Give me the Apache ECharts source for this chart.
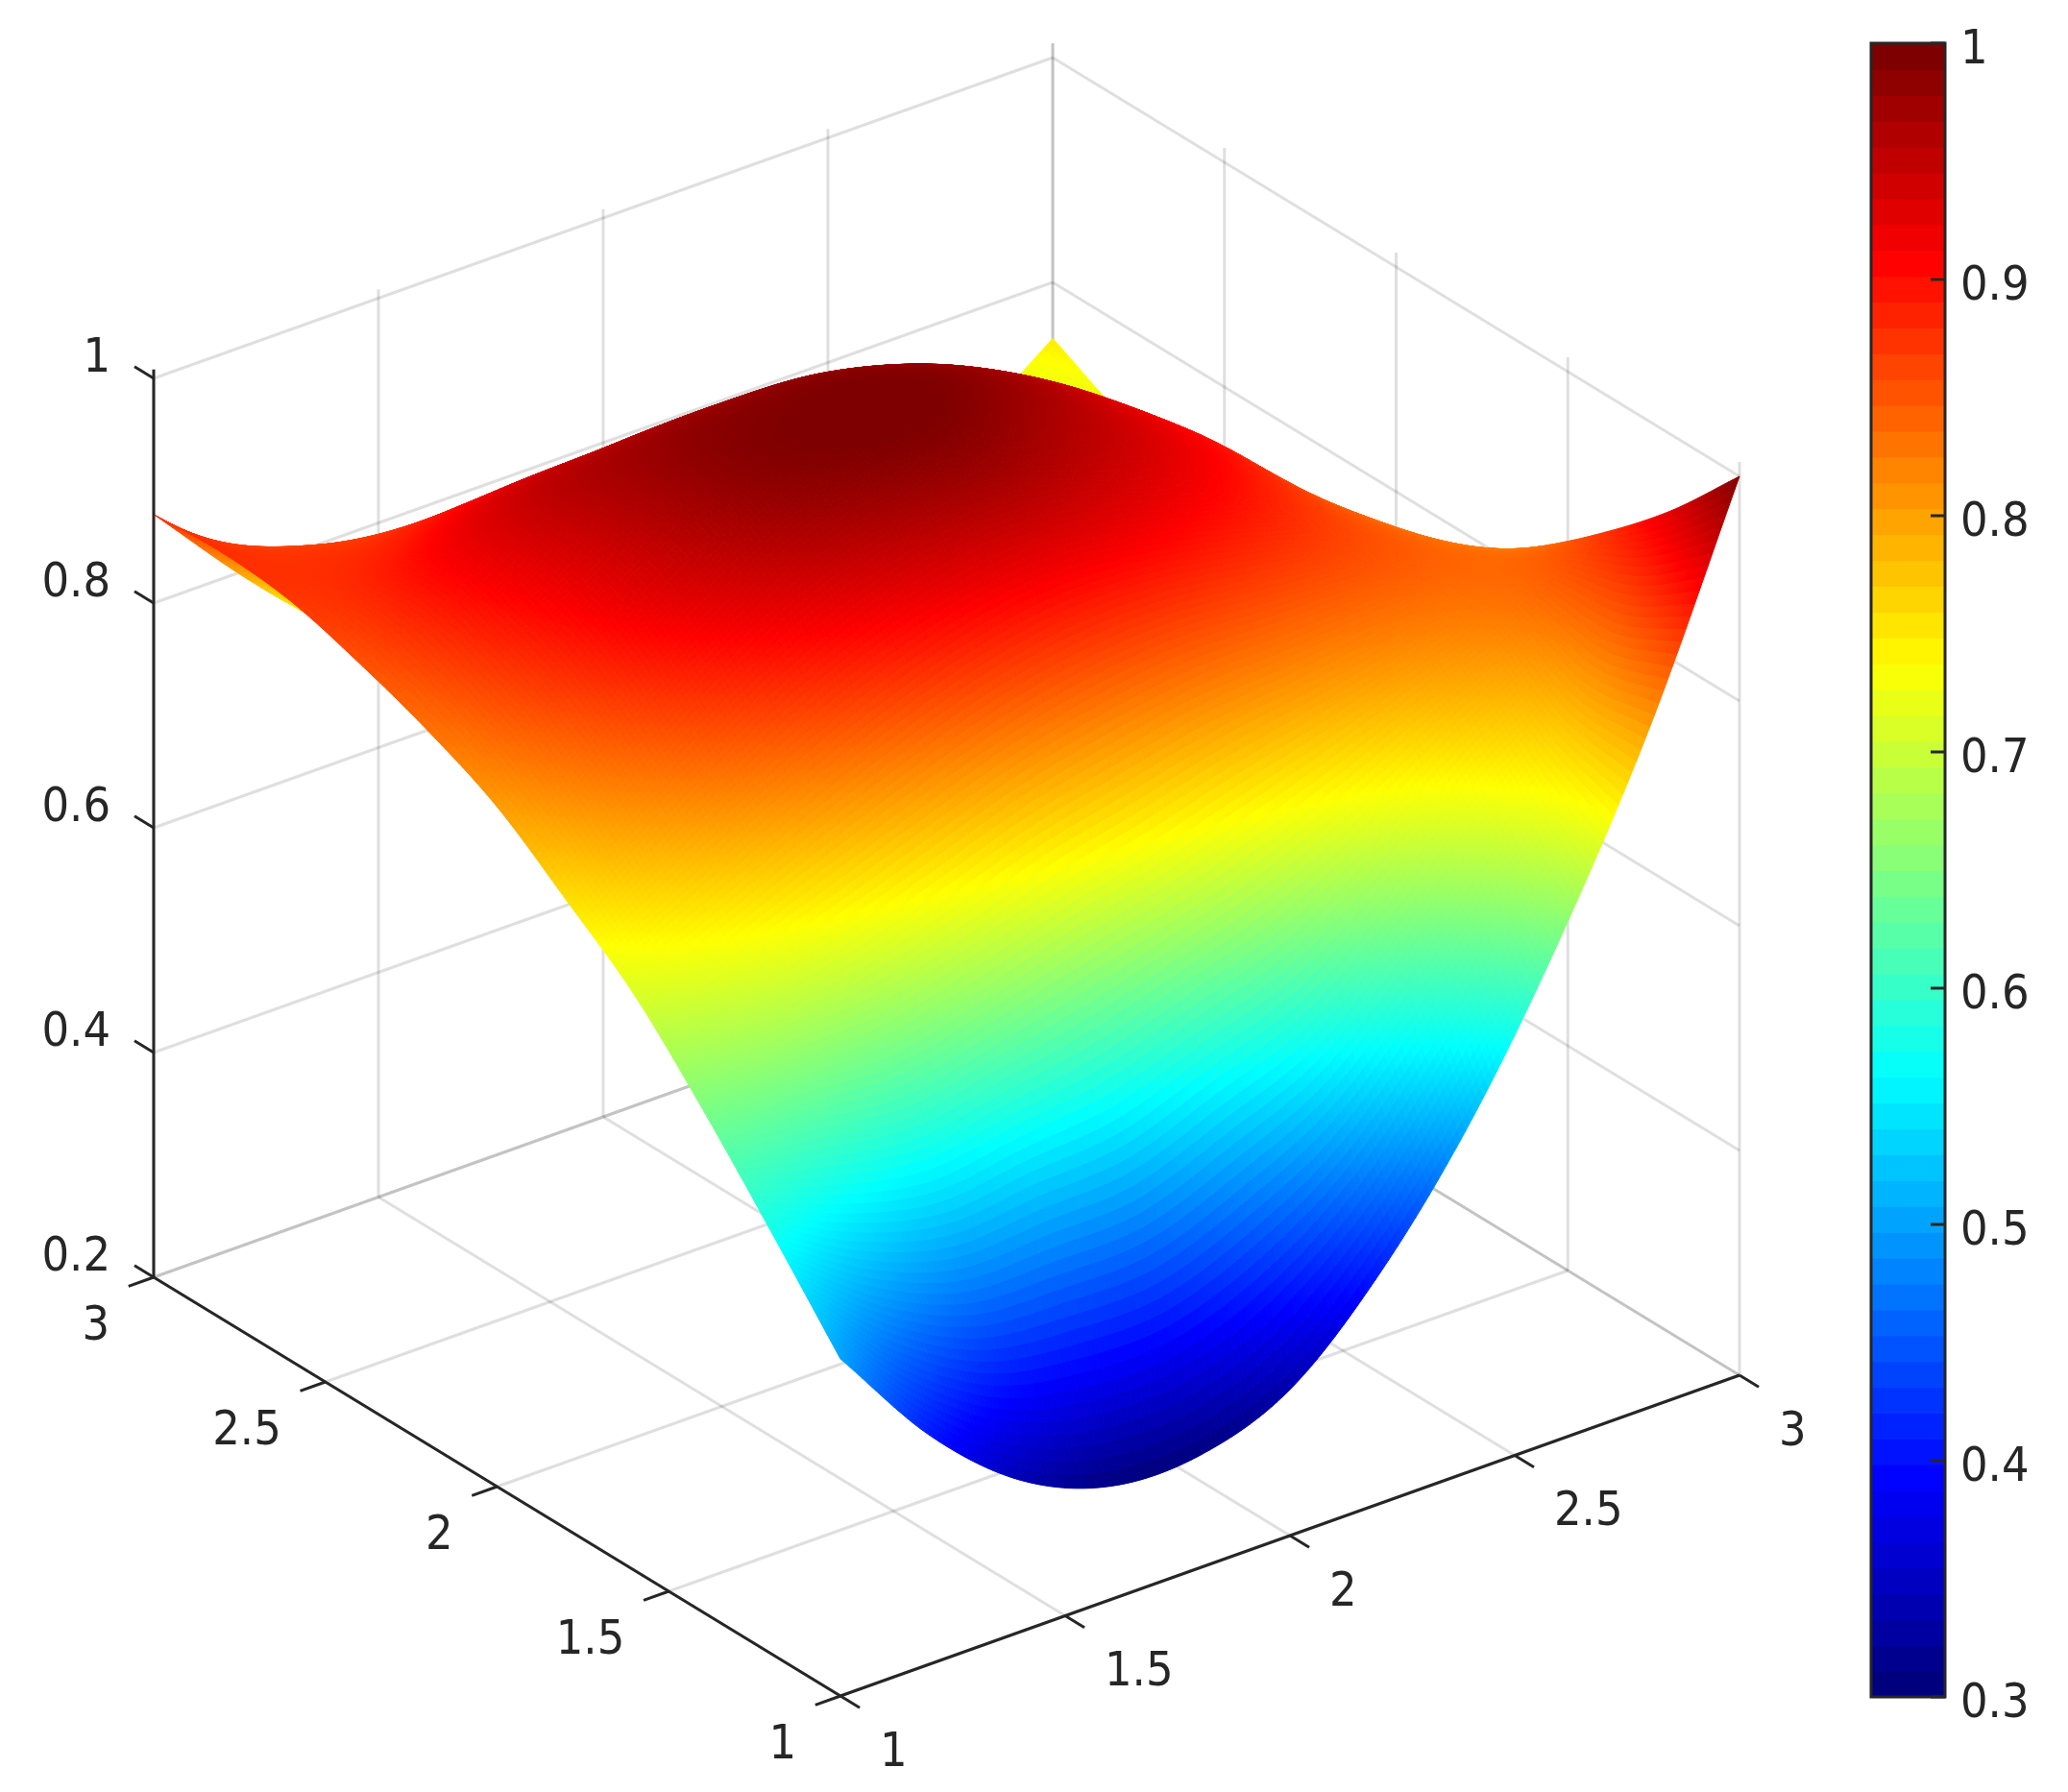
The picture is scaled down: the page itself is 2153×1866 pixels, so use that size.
<!DOCTYPE html>
<html>
<head>
<meta charset="utf-8">
<title>surface</title>
<script src="https://cdn.jsdelivr.net/npm/echarts@6/dist/echarts.min.js"></script>
<style>
  html, body { margin: 0; padding: 0; background: #fff; }
  #chart { width: 2153px; height: 1866px; }
</style>
</head>
<body>
<div id="chart"></div>
<script>
// values
const uValues = [1, 1.2, 1.4, 1.6, 1.8, 2, 2.2, 2.4, 2.6, 2.8, 3];
const vValues = [1, 1.2, 1.4, 1.6, 1.8, 2, 2.2, 2.4, 2.6, 2.8, 3];
// one row per v, one column per u
const zValues = [
  [0.500, 0.403, 0.335, 0.301, 0.300, 0.330, 0.405, 0.510, 0.645, 0.805, 1.000],
  [0.575, 0.530, 0.505, 0.510, 0.515, 0.545, 0.578, 0.645, 0.725, 0.800, 0.932],
  [0.647, 0.655, 0.655, 0.675, 0.700, 0.720, 0.745, 0.770, 0.800, 0.830, 0.875],
  [0.712, 0.745, 0.780, 0.812, 0.840, 0.858, 0.865, 0.860, 0.855, 0.845, 0.825],
  [0.760, 0.820, 0.872, 0.915, 0.942, 0.952, 0.940, 0.918, 0.885, 0.840, 0.783],
  [0.805, 0.870, 0.930, 0.975, 0.995, 0.997, 0.975, 0.945, 0.900, 0.825, 0.760],
  [0.835, 0.900, 0.953, 0.988, 1.000, 1.002, 0.985, 0.945, 0.885, 0.805, 0.740],
  [0.858, 0.915, 0.955, 0.970, 0.975, 0.970, 0.945, 0.900, 0.850, 0.770, 0.720],
  [0.876, 0.890, 0.908, 0.900, 0.890, 0.870, 0.850, 0.830, 0.800, 0.740, 0.710],
  [0.882, 0.860, 0.830, 0.770, 0.740, 0.730, 0.720, 0.720, 0.710, 0.700, 0.720],
  [0.879, 0.795, 0.720, 0.650, 0.600, 0.580, 0.580, 0.600, 0.630, 0.690, 0.750]
];
const uTicks = [1, 1.5, 2, 2.5, 3];
const vTicks = [1, 1.5, 2, 2.5, 3];
const zTicks = [0.2, 0.4, 0.6, 0.8, 1];
const colorTicks = [0.3, 0.4, 0.5, 0.6, 0.7, 0.8, 0.9, 1];
const zTopLeft = 1.008;
const zTopRight = 1.0128;
const zBottom = 0.2;

const jetStops = [0, 0.125, 0.375, 0.625, 0.875, 1];
const jetColors = ['#00007f', '#0000ff', '#00ffff', '#ffff00', '#ff0000', '#7f0000'];
const colorMin = 0.3;
const colorMax = 1;
const colorLevels = 64;

const WIDTH = 2153;
const HEIGHT = 1866;
const FONT = '"DejaVu Sans Condensed", "DejaVu Sans", sans-serif';
const INK = '#262626';
const GRID_LINE = 'rgba(38,38,38,0.15)';
const SUB = 20; // facets per data cell, like shading interp

// orthographic view of the box, in page pixels
function project(u, v, z) {
  return [
    875 + (u - 1) * 468 - (v - 1) * 357.5,
    1766 - (u - 1) * 167 - (v - 1) * 218 - (z - zBottom) * 1170
  ];
}

function jet(z) {
  const t = Math.min(1, Math.max(0, (z - colorMin) / (colorMax - colorMin)));
  let k = 0;
  while (k < jetStops.length - 2 && t > jetStops[k + 1]) k++;
  const local = (t - jetStops[k]) / (jetStops[k + 1] - jetStops[k]);
  return echarts.color.lerp(local, [jetColors[k], jetColors[k + 1]]);
}

// smooth shading between the read values
function rowAt(row, i) {
  const n = row.length;
  if (i < 0) return 2 * row[0] - row[1];
  if (i >= n) return 2 * row[n - 1] - row[n - 2];
  return row[i];
}
function spline(p0, p1, p2, p3, t) {
  return p1 + 0.5 * t * (p2 - p0 + t * (2 * p0 - 5 * p1 + 4 * p2 - p3 + t * (3 * (p1 - p2) + p3 - p0)));
}
function rowSpline(row, i, s) {
  return spline(rowAt(row, i - 1), rowAt(row, i), rowAt(row, i + 1), rowAt(row, i + 2), s);
}
function heightAt(i, j, s, t) {
  const n = zValues.length;
  const cols = [];
  for (let jj = j - 1; jj <= j + 2; jj++) {
    if (jj < 0) {
      cols.push(2 * rowSpline(zValues[0], i, s) - rowSpline(zValues[1], i, s));
    } else if (jj >= n) {
      cols.push(2 * rowSpline(zValues[n - 1], i, s) - rowSpline(zValues[n - 2], i, s));
    } else {
      cols.push(rowSpline(zValues[jj], i, s));
    }
  }
  return spline(cols[0], cols[1], cols[2], cols[3], t);
}

// back corner first, so nearer cells paint over farther ones
const cells = [];
for (let i = uValues.length - 2; i >= 0; i--) {
  for (let j = vValues.length - 2; j >= 0; j--) {
    cells.push([i, j]);
  }
}

function renderCell(params, api) {
  const i = api.value(0);
  const j = api.value(1);
  const du = uValues[i + 1] - uValues[i];
  const dv = vValues[j + 1] - vValues[j];
  const h = [];
  const pts = [];
  for (let a = 0; a <= SUB; a++) {
    h.push([]);
    pts.push([]);
    for (let b = 0; b <= SUB; b++) {
      const z = heightAt(i, j, a / SUB, b / SUB);
      h[a].push(z);
      pts[a].push(api.coord(project(uValues[i] + du * a / SUB, vValues[j] + dv * b / SUB, z)));
    }
  }
  const children = [];
  for (let a = SUB - 1; a >= 0; a--) {
    for (let b = SUB - 1; b >= 0; b--) {
      const color = jet((h[a][b] + h[a + 1][b] + h[a][b + 1] + h[a + 1][b + 1]) / 4);
      children.push({
        type: 'polygon',
        silent: true,
        shape: { points: [pts[a][b], pts[a + 1][b], pts[a + 1][b + 1], pts[a][b + 1]] },
        style: { fill: color, stroke: color, lineWidth: 1 }
      });
    }
  }
  return { type: 'group', children: children };
}

// segments as [u1, v1, z1, u2, v2, z2]
const gridSegments = [];
zTicks.forEach(z => {
  gridSegments.push([1, 3, z, 3, 3, z]);
  gridSegments.push([3, 3, z, 3, 1, z]);
});
uTicks.forEach(u => {
  gridSegments.push([u, 3, zBottom, u, 3, u === 3 ? zTopRight : zTopLeft]);
  gridSegments.push([u, 1, zBottom, u, 3, zBottom]);
});
vTicks.forEach(v => {
  gridSegments.push([3, v, zBottom, 3, v, zTopRight]);
  gridSegments.push([1, v, zBottom, 3, v, zBottom]);
});

const axisSegments = [
  [1, 1, zBottom, 3, 1, zBottom],
  [1, 1, zBottom, 1, 3, zBottom],
  [1, 3, zBottom, 1, 3, zTopLeft]
];
const tickSize = 0.056;
uTicks.forEach(u => axisSegments.push([u, 1, zBottom, u, 1 - tickSize, zBottom]));
vTicks.forEach(v => axisSegments.push([1, v, zBottom, 1 - tickSize, v, zBottom]));
zTicks.forEach(z => axisSegments.push([1, 3, z, 1, 3 + tickSize, z]));

function segmentRenderer(color, width) {
  return function (params, api) {
    const a = api.coord(project(api.value(0), api.value(1), api.value(2)));
    const b = api.coord(project(api.value(3), api.value(4), api.value(5)));
    return {
      type: 'line',
      silent: true,
      shape: { x1: a[0], y1: a[1], x2: b[0], y2: b[1] },
      style: { stroke: color, lineWidth: width, lineCap: 'butt' }
    };
  };
}

// [text, u, v, z, dx, dy, align]
const tickLabels = [];
zTicks.forEach(z => tickLabels.push([String(z), 1, 3, z, -45, -20, 'right']));
vTicks.forEach(v => tickLabels.push([String(v), 1, v, zBottom, -46, 52, 'right']));
uTicks.forEach(u => tickLabels.push([String(u), u, 1, zBottom, 41, 60, 'left']));

function labelElement(text, x, y, align) {
  return {
    type: 'text',
    silent: true,
    x: x,
    y: y,
    style: {
      text: text,
      font: '50px ' + FONT,
      fill: INK,
      align: align,
      verticalAlign: 'middle'
    }
  };
}

function renderLabel(params, api) {
  const row = tickLabels[params.dataIndex];
  const p = api.coord(project(row[1], row[2], row[3]));
  return labelElement(row[0], p[0] + row[4], p[1] + row[5], row[6]);
}

// colour bar: one band per colormap level
const colorBands = [];
for (let k = 0; k < colorLevels; k++) {
  colorBands.push([k]);
}
function renderBand(params, api) {
  const k = api.value(0);
  const low = colorMin + (colorMax - colorMin) * k / colorLevels;
  const high = colorMin + (colorMax - colorMin) * (k + 1) / colorLevels;
  const a = api.coord([0, low]);
  const b = api.coord([1, high]);
  const color = jet(colorMin + (colorMax - colorMin) * k / (colorLevels - 1));
  return {
    type: 'rect',
    silent: true,
    shape: { x: a[0], y: b[1], width: b[0] - a[0], height: a[1] - b[1] + 1 },
    style: { fill: color }
  };
}
function renderBandBox(params, api) {
  const a = api.coord([0, colorMin]);
  const b = api.coord([1, colorMax]);
  return {
    type: 'rect',
    silent: true,
    shape: { x: a[0], y: b[1], width: b[0] - a[0], height: a[1] - b[1] },
    style: { fill: 'none', stroke: INK, lineWidth: 3 }
  };
}
function renderColorTick(params, api) {
  const p = api.coord([1, api.value(0)]);
  return {
    type: 'group',
    children: [
      {
        type: 'line',
        silent: true,
        shape: { x1: p[0] - 15, y1: p[1], x2: p[0], y2: p[1] },
        style: { stroke: INK, lineWidth: 3 }
      },
      labelElement(String(api.value(0)), p[0] + 16, p[1] + 8, 'left')
    ]
  };
}

const chart = echarts.init(document.getElementById('chart'), null, { renderer: 'canvas' });
const option = {
  animation: false,
  backgroundColor: '#fff',
  grid: [
    { left: 0, top: 0, width: WIDTH, height: HEIGHT },
    { left: 1948, top: 45, width: 77, height: 1722 }
  ],
  xAxis: [
    { type: 'value', gridIndex: 0, min: 0, max: WIDTH, show: false },
    { type: 'value', gridIndex: 1, min: 0, max: 1, show: false }
  ],
  yAxis: [
    { type: 'value', gridIndex: 0, min: 0, max: HEIGHT, inverse: true, show: false },
    { type: 'value', gridIndex: 1, min: colorMin, max: colorMax, show: false }
  ],
  series: [
    {
      type: 'custom', name: 'grid', z: 1, xAxisIndex: 0, yAxisIndex: 0,
      data: gridSegments, renderItem: segmentRenderer(GRID_LINE, 3)
    },
    {
      type: 'custom', name: 'surface', z: 2, xAxisIndex: 0, yAxisIndex: 0,
      data: cells, renderItem: renderCell
    },
    {
      type: 'custom', name: 'axes', z: 3, xAxisIndex: 0, yAxisIndex: 0,
      data: axisSegments, renderItem: segmentRenderer(INK, 3)
    },
    {
      type: 'custom', name: 'tick labels', z: 4, xAxisIndex: 0, yAxisIndex: 0,
      data: tickLabels.map(row => row.slice(1, 4)), renderItem: renderLabel
    },
    {
      type: 'custom', name: 'colorbar', z: 2, xAxisIndex: 1, yAxisIndex: 1,
      data: colorBands, encode: { x: [], y: [] }, renderItem: renderBand
    },
    {
      type: 'custom', name: 'colorbar box', z: 3, xAxisIndex: 1, yAxisIndex: 1,
      data: [[0]], encode: { x: [], y: [] }, renderItem: renderBandBox
    },
    {
      type: 'custom', name: 'colorbar ticks', z: 4, xAxisIndex: 1, yAxisIndex: 1,
      data: colorTicks.map(t => [t]), encode: { x: [], y: [] }, renderItem: renderColorTick
    }
  ]
};
chart.setOption(option);
</script>
</body>
</html>
